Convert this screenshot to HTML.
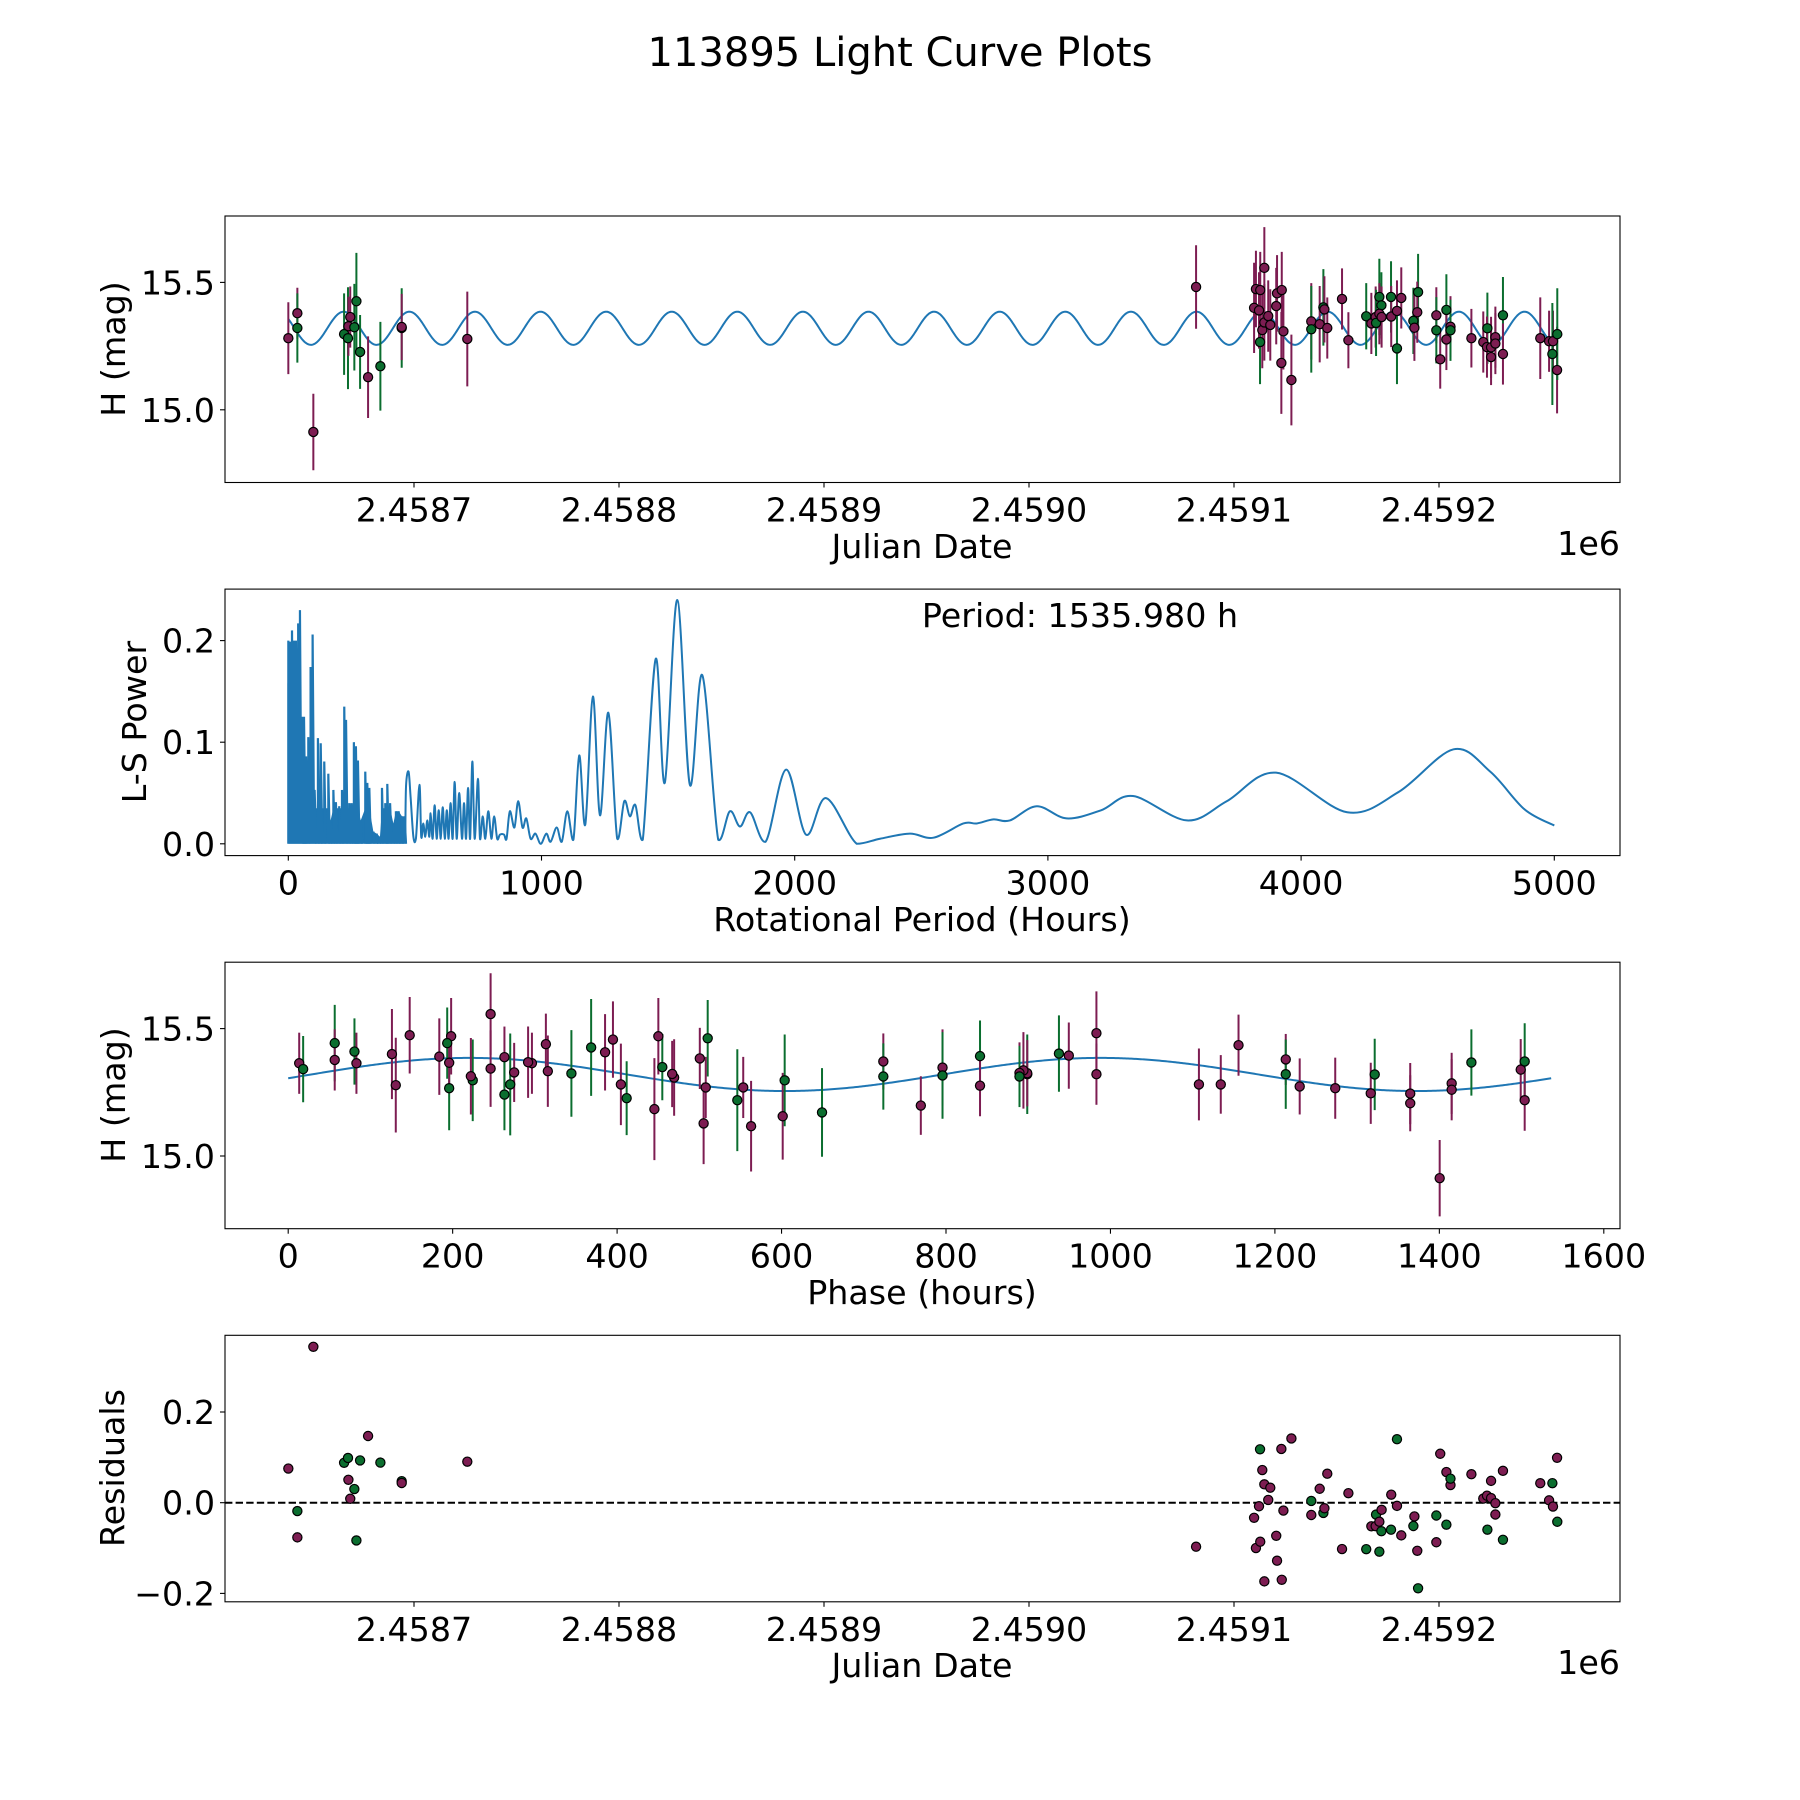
<!DOCTYPE html>
<html><head><meta charset="utf-8"><title>113895 Light Curve Plots</title>
<style>
html,body{margin:0;padding:0;background:#fff;}
svg{display:block;font-family:"DejaVu Sans","Liberation Sans",sans-serif;}
</style></head>
<body>
<svg id="fig" width="1800" height="1800" viewBox="0 0 1800 1800" xmlns="http://www.w3.org/2000/svg">
<rect x="0" y="0" width="1800" height="1800" fill="#fff"/>
<text x="900" y="66" text-anchor="middle" font-size="40" fill="#000">113895 Light Curve Plots</text>
</svg>
<script>
// ---------- observation data ----------
const obsJd = [2458638.7,2458643.1,2458643.1,2458650.9,2458665.9,2458667.8,2458668.0,2458668.9,2458670.9,2458671.9,2458673.7,2458677.6,2458683.6,2458694.0,2458694.0,2458726.0,
2459081.5,2459109.8,2459110.7,2459112.7,2459112.2,2459112.8,2459114.8,2459113.8,2459114.8,2459116.7,2459117.7,2459120.6,2459121.0,2459123.3,2459123.1,2459124.1,2459128.0,
2459137.7,2459137.7,2459141.8,2459143.6,2459144.1,2459145.5,2459152.7,2459155.8,2459164.5,2459167.0,2459169.1,2459169.3,2459170.9,2459171.9,2459170.9,2459172.0,2459176.6,
2459176.7,2459179.5,2459179.5,2459181.6,2459187.5,2459188.0,2459189.8,2459189.4,2459198.7,2459198.7,2459200.6,2459203.6,2459203.6,2459205.6,2459205.6,2459215.8,2459221.6,
2459223.6,2459223.4,2459225.4,2459225.4,2459227.5,2459227.5,2459231.2,2459231.2,2459249.4,2459253.7,2459255.6,2459255.3,2459257.6,2459257.7];
const obsMag = [15.281,15.379,15.321,14.913,15.297,15.281,15.328,15.364,15.324,15.426,15.227,15.128,15.171,15.321,15.325,15.278,
15.482,15.400,15.474,15.266,15.390,15.470,15.557,15.313,15.343,15.368,15.333,15.407,15.457,15.470,15.184,15.308,15.117,
15.347,15.316,15.336,15.402,15.394,15.321,15.435,15.273,15.367,15.339,15.364,15.341,15.443,15.410,15.377,15.364,15.443,
15.366,15.388,15.241,15.439,15.349,15.322,15.462,15.383,15.371,15.312,15.198,15.392,15.276,15.326,15.312,15.281,15.266,
15.320,15.246,15.207,15.245,15.285,15.260,15.371,15.219,15.281,15.269,15.269,15.219,15.156,15.297];
const obsErr = [0.141,0.10,0.136,0.15,0.16,0.20,0.116,0.12,0.17,0.19,0.145,0.16,0.174,0.156,0.13,0.186,
0.164,0.177,0.15,0.165,0.15,0.15,0.16,0.15,0.15,0.14,0.14,0.15,0.15,0.15,0.2,0.15,0.178,
0.15,0.17,0.15,0.15,0.13,0.12,0.12,0.11,0.13,0.12,0.12,0.13,0.15,0.13,0.12,0.12,0.14,
0.12,0.12,0.14,0.12,0.13,0.13,0.15,0.12,0.11,0.13,0.115,0.14,0.12,0.12,0.12,0.115,0.12,
0.14,0.12,0.11,0.12,0.12,0.12,0.15,0.12,0.16,0.12,0.12,0.2,0.17,0.18];
const obsBand = ['P','P','G','P','G','G','P','P','G','G','G','P','G','G','P','P',
'P','P','P','G','P','P','P','P','P','P','P','P','P','P','P','P','P',
'P','G','P','G','P','P','P','P','G','P','P','G','G','G','P','P','G',
'P','P','G','P','G','P','G','P','P','G','P','G','P','P','G','P','P',
'G','P','P','P','P','P','G','P','P','P','P','G','P','G'];
// fitted model: [mean, amplitude, peak phase (h), period (h), epoch (JD)]
const modelParams = [15.32, 0.065, 220, 1535.98, 2458592.55];
// ---------- periodogram data ----------
const spikePeriods = [0,0.1,6.7,14.6,22.5,30,39,46,54,62,70,79,88,96,104,117,128,142,158,167,178,188,201,212,221,228,241,250,259,267,275,286,304,312,320,336,349,362,370,383,391,402,415,425,436,449,459];
const spikePowers  = [0.158,0.2,0.199,0.21,0.2,0.2,0.217,0.23,0.125,0.125,0.086,0.105,0.174,0.206,0.053,0.104,0.099,0.081,0.069,0.023,0.053,0.041,0.037,0.053,0.135,0.122,0.040,0.040,0.1,0.096,0.082,0.023,0.071,0.060,0.055,0.012,0.010,0.007,0.055,0.040,0.059,0.040,0.020,0.032,0.032,0.027,0.027];
const curvePeriods = [462,465,475,483,494,504,518,525,533,541,549,557,562,570,578,586,594,602,610,618,626,633,641,649,657,665,675,686,694,702,710,718,727,736,749,757,768,778,790,802,813,825,836,852,862,875,893,908,925,940,957,976,997,1019,1036,1060,1080,1102,1126,1149,1173,1203,1231,1264,1299,1327,1349,1371,1400,1451,1487,1536,1586,1635,1698,1744,1784,1824,1885,1966,2045,2124,2245,2337,2455,2548,2666,2719,2785,2850,2956,3074,3210,3336,3549,3707,3901,4182,4385,4602,4747,4882,5000];
const curvePowers  = [0.005,0.057,0.071,0.046,0.007,0.005,0.058,0.007,0.020,0.007,0.023,0.007,0.030,0.005,0.038,0.005,0.033,0.005,0.036,0.005,0.033,0.005,0.040,0.005,0.061,0.005,0.050,0.005,0.040,0.005,0.055,0.005,0.081,0.005,0.064,0.005,0.027,0.005,0.032,0.005,0.027,0.005,0.009,0.009,0.005,0.032,0.016,0.042,0.016,0.025,0.005,0.010,0.0,0.010,0.002,0.016,0.002,0.032,0.004,0.087,0.019,0.145,0.028,0.129,0.005,0.042,0.027,0.038,0.004,0.182,0.060,0.240,0.058,0.166,0.004,0.032,0.017,0.031,0.002,0.073,0.009,0.045,0.0,0.005,0.010,0.006,0.020,0.020,0.024,0.023,0.037,0.025,0.033,0.047,0.023,0.042,0.070,0.031,0.051,0.093,0.071,0.034,0.018];
// ---------- tick labels ----------
const jdTicks = [2458700,2458800,2458900,2459000,2459100,2459200];
const jdTickLabels = ['2.4587','2.4588','2.4589','2.4590','2.4591','2.4592'];
const magTicks = [15.0,15.5];
const magTickLabels = ['15.0','15.5'];
const perTicks = [0,1000,2000,3000,4000,5000];
const powTicks = [0,0.1,0.2];
const powTickLabels = ['0.0','0.1','0.2'];
const phaseTicks = [0,200,400,600,800,1000,1200,1400,1600];
const resTicks = [-0.2,0,0.2];
const resTickLabels = ['\u22120.2','0.0','0.2'];

const NS='http://www.w3.org/2000/svg';
const svg=document.getElementById('fig');
const COL={P:'#7d1d52',G:'#0b6e2f'};
const BLUE='#1f77b4';
const FS=33.3;
function mk(tag,attrs,parent){const e=document.createElementNS(NS,tag);for(const k in attrs)e.setAttribute(k,attrs[k]);(parent||svg).appendChild(e);return e;}
function lin(d0,d1,r0,r1){return v=>r0+(v-d0)*(r1-r0)/(d1-d0);}
const L=225,R=1620;
const panels=[[216,482.5],[589.1,855.6],[962.2,1228.7],[1335.3,1601.8]];
const xJd=lin(2458700,2459200,414,1439);
const yMag1=lin(15.0,15.5,409.8,282.4);
const xPer=lin(0,5000,288.3,1554.3);
const yPow=lin(0,0.2,843.8,640.6);
const xPh=lin(0,1600,288.2,1603.8);
const yMag3=lin(15.0,15.5,1156,1028.6);
const yRes=lin(0,0.2,1502.7,1412);

function model(j){const[m,a,pk,P,t0]=modelParams;const ph=(((j-t0)*24)%P+P)%P;return m+a*Math.cos(2*Math.PI*(ph-pk)/(P/2));}
function phaseOf(j){const P=modelParams[3],t0=modelParams[4];return (((j-t0)*24)%P+P)%P;}

function frame(i,name){const [t,b]=panels[i];
  const g=mk('g',{});
  
  
  const r=mk('rect',{x:L,y:t,width:R-L,height:b-t,fill:'none',stroke:'#000','stroke-width':1.1},g);
  
  
  return g;}
function xticks(g,i,vals,labels,sx,axname){const b=panels[i][1];
  vals.forEach((v,k)=>{const x=sx(v);
    const tk=mk('line',{x1:x,x2:x,y1:b,y2:b+5,stroke:'#000','stroke-width':1.1},g);
    
    
    const t=mk('text',{x:x,y:b+39,'text-anchor':'middle','font-size':FS},g);t.textContent=labels[k];
    
    });}
function yticks(g,vals,labels,sy,axname){
  vals.forEach((v,k)=>{const y=sy(v);
    const tk=mk('line',{x1:L-5,x2:L,y1:y,y2:y,stroke:'#000','stroke-width':1.1},g);
    
    
    const t=mk('text',{x:L-10,y:y+12,'text-anchor':'end','font-size':FS},g);t.textContent=labels[k];
    
    });}
function label(g,txt,x,y,rot,name){const t=mk('text',{x:x,y:y,'text-anchor':'middle','font-size':FS},g);
  if(rot)t.setAttribute('transform','rotate(-90 '+x+' '+y+')');t.textContent=txt;
  
  }
function clip(id,i){const cp=mk('clipPath',{id:id});mk('rect',{x:L,y:panels[i][0],width:R-L,height:panels[i][1]-panels[i][0]},cp);}
function errpts(g,xs,ys,es,ysc,name){
  for(let k=0;k<xs.length;k++){const c=COL[obsBand[k]];
    const el=mk('line',{x1:xs[k],x2:xs[k],y1:ysc(ys[k]-es[k]),y2:ysc(ys[k]+es[k]),stroke:c,'stroke-width':2},g);
    
    }
  for(let k=0;k<xs.length;k++){const c=COL[obsBand[k]];
    const p=mk('circle',{cx:xs[k],cy:ysc(ys[k]),r:4.6,fill:c,stroke:'#000','stroke-width':1.2},g);
    
    }}

// ---- Panel 1 ----
(function(){const g=frame(0,'light-curve-panel');clip('c1',0);
  const d=mk('g',{'clip-path':'url(#c1)'},g);
  let s='';const j0=Math.min(...obsJd),j1=Math.max(...obsJd);
  for(let k=0;k<=1500;k++){const j=j0+(j1-j0)*k/1500;s+=(k?'L':'M')+xJd(j).toFixed(2)+','+yMag1(model(j)).toFixed(2);}
  const ln=mk('path',{d:s,fill:'none',stroke:BLUE,'stroke-width':2},d);
  
  
  errpts(d,obsJd.map(xJd),obsMag,obsErr,yMag1,'observation');
  xticks(g,0,jdTicks,jdTickLabels,xJd,'x-axis');yticks(g,magTicks,magTickLabels,yMag1,'y-axis');
  label(g,'Julian Date',922,558,false,'x-axis-title');label(g,'H (mag)',125,349,true,'y-axis-title');
  const o=mk('text',{x:R,y:555,'text-anchor':'end','font-size':FS},g);o.textContent='1e6';
  
  
})();

// ---- Panel 2 ----
(function(){const g=frame(1,'periodogram-panel');clip('c2',1);
  const d=mk('g',{'clip-path':'url(#c2)'},g);
  const y0=yPow(0);
  let band='M'+xPer(spikePeriods[0])+','+y0;
  spikePeriods.forEach((p,k)=>{band+='L'+xPer(p).toFixed(2)+','+yPow(Math.min(spikePowers[k],0.035)).toFixed(2);});
  band+='L'+xPer(spikePeriods[spikePeriods.length-1])+','+y0+'Z';
  const bd=mk('path',{d:band,fill:BLUE,stroke:'none'},d);
  
  
  let sp='';spikePeriods.forEach((p,k)=>{const x=xPer(p);sp+='M'+x.toFixed(2)+','+y0+'L'+x.toFixed(2)+','+yPow(spikePowers[k]).toFixed(2)+'L'+(x+1.5).toFixed(2)+','+y0;});
  const spk=mk('path',{d:sp,fill:'none',stroke:BLUE,'stroke-width':2.2},d);
  
  
  const P=curvePeriods.map((p,k)=>[xPer(p),yPow(curvePowers[k])]);
  let s='M'+P[0][0]+','+P[0][1];
  for(let i=0;i<P.length-1;i++){const p0=P[Math.max(0,i-1)],p1=P[i],p2=P[i+1],p3=P[Math.min(P.length-1,i+2)];
    const c1=[p1[0]+(p2[0]-p0[0])/6,p1[1]+(p2[1]-p0[1])/6],c2=[p2[0]-(p3[0]-p1[0])/6,p2[1]-(p3[1]-p1[1])/6];
    s+='C'+c1[0].toFixed(2)+','+Math.min(y0,c1[1]).toFixed(2)+' '+c2[0].toFixed(2)+','+Math.min(y0,c2[1]).toFixed(2)+' '+p2[0].toFixed(2)+','+p2[1].toFixed(2);}
  const ln=mk('path',{d:s,fill:'none',stroke:BLUE,'stroke-width':2},d);
  
  
  xticks(g,1,perTicks,perTicks.map(String),xPer,'x-axis');yticks(g,powTicks,powTickLabels,yPow,'y-axis');
  label(g,'Rotational Period (Hours)',922,931,false,'x-axis-title');label(g,'L-S Power',146,722,true,'y-axis-title');
  const t=mk('text',{x:1080,y:627,'text-anchor':'middle','font-size':FS},g);t.textContent='Period: 1535.980 h';
  
  
})();

// ---- Panel 3 ----
(function(){const g=frame(2,'phase-panel');clip('c3',2);
  const d=mk('g',{'clip-path':'url(#c3)'},g);
  let s='';const P=modelParams[3];
  for(let k=0;k<=800;k++){const ph=P*k/800;const j=modelParams[4]+ph/24;s+=(k?'L':'M')+xPh(ph).toFixed(2)+','+yMag3(model(j)).toFixed(2);}
  const ln=mk('path',{d:s,fill:'none',stroke:BLUE,'stroke-width':2},d);
  
  
  errpts(d,obsJd.map(j=>xPh(phaseOf(j))),obsMag,obsErr,yMag3,'phased-observation');
  xticks(g,2,phaseTicks,phaseTicks.map(String),xPh,'x-axis');yticks(g,magTicks,magTickLabels,yMag3,'y-axis');
  label(g,'Phase (hours)',922,1304,false,'x-axis-title');label(g,'H (mag)',125,1095,true,'y-axis-title');
})();

// ---- Panel 4 ----
(function(){const g=frame(3,'residuals-panel');clip('c4',3);
  const d=mk('g',{'clip-path':'url(#c4)'},g);
  const zl=mk('line',{x1:L,x2:R,y1:yRes(0),y2:yRes(0),stroke:'#000','stroke-width':2,'stroke-dasharray':'7.4,3.2'},d);
  
  
  for(let k=0;k<obsJd.length;k++){const r=model(obsJd[k])-obsMag[k];
    const p=mk('circle',{cx:xJd(obsJd[k]),cy:yRes(r),r:4.6,fill:COL[obsBand[k]],stroke:'#000','stroke-width':1.2},d);
    
    }
  xticks(g,3,jdTicks,jdTickLabels,xJd,'x-axis');yticks(g,resTicks,resTickLabels,yRes,'y-axis');
  label(g,'Julian Date',922,1677,false,'x-axis-title');label(g,'Residuals',124,1468,true,'y-axis-title');
  const o=mk('text',{x:R,y:1674,'text-anchor':'end','font-size':FS},g);o.textContent='1e6';
  
  
})();
</script>
</body></html>
